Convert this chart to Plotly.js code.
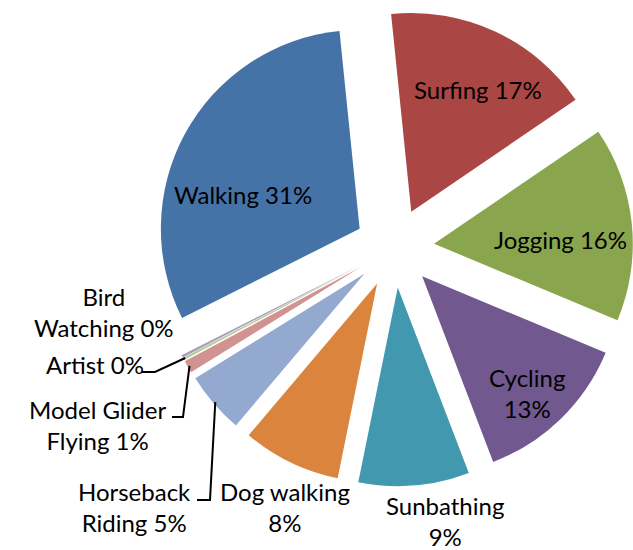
<!DOCTYPE html>
<html>
<head>
<meta charset="utf-8">
<script src="https://cdn.plot.ly/plotly-3.0.1.min.js"></script>
<style>html,body{margin:0;padding:0;background:#fff;overflow:hidden;}#chart{width:633px;height:550px;}</style>
</head>
<body>
<div id="chart"></div>
<script>
// Data (share of activities)
const activities = ["Walking", "Surfing", "Jogging", "Cycling", "Sunbathing", "Dog walking",
                    "Horseback Riding", "Model Glider Flying", "Artist", "Bird Watching"];
const shares = [30.8, 17.1, 15.8, 12.9, 9.0, 8.0, 5.0, 1.0, 0.2, 0.2];
// Label text as shown (line-broken)
const labelText = ["Walking", "Surfing", "Jogging", "Cycling<br>", "Sunbathing<br>", "Dog walking<br>",
                   "Horseback<br>Riding", "Model Glider<br>Flying", "Artist", "Bird<br>Watching"];
const sliceColors = ["#4572A7", "#AA4643", "#89A54E", "#71588F", "#4198AF", "#DB843D",
                     "#93A9CF", "#D19392", "#B9CD96", "#A99BBD"];

// ---- layout constants ----
const W = 633, H = 550;
const PULL = 0.2;
const ROT = 243.3;
const DOM = {x: [0.2464, 1], y: [0.109, 0.99]};
const FONT = {family: "Lato, 'Open Sans', sans-serif", size: 24, color: "#000"};
// label centres (px) and leader-line elbows (px), null = no leader
const labelPos = [
  {x: 243, y: 195, line: null},
  {x: 478, y: 90,  line: null},
  {x: 560, y: 240, line: null},
  {x: 527, y: 393, line: null},
  {x: 445, y: 521, line: null},
  {x: 285, y: 507, line: null},
  {x: 134, y: 507, line: [[197, 500], [210, 500]]},
  {x: 97,  y: 425, line: [[172, 417], [183, 417]]},
  {x: 95,  y: 364, line: [[142, 372], [155, 372]]},
  {x: 104, y: 312, line: null}
];

const total = shares.reduce((a, b) => a + b, 0);
const pctText = shares.map(v => Math.round(v / total * 100) + "%");
const fullText = labelText.map((t, i) => t + (t.endsWith("<br>") ? "" : " ") + pctText[i]);

// pie geometry (same as Plotly: r = min(w,h) / (2 + 2*pull))
const boxW = W * (DOM.x[1] - DOM.x[0]), boxH = H * (DOM.y[1] - DOM.y[0]);
const r = Math.min(boxW, boxH) / (2 + 2 * PULL);
const cx = W * (DOM.x[0] + DOM.x[1]) / 2;
const cy = H - H * (DOM.y[0] + DOM.y[1]) / 2;
function midAngle(i) {
  let before = 0;
  for (let k = 0; k < i; k++) before += shares[k];
  return (ROT + (before + shares[i] / 2) / total * 360) * Math.PI / 180;
}
function anchor(i) {
  const a = midAngle(i), d = r * (1 + PULL) - 2;
  return [cx + d * Math.sin(a), cy - d * Math.cos(a)];
}
const px = x => x / W, py = y => 1 - y / H;

const trace = {
  type: "pie",
  labels: activities,
  values: shares,
  sort: false,
  direction: "clockwise",
  rotation: ROT,
  pull: PULL,
  marker: {colors: sliceColors, line: {width: 0}},
  textinfo: "none",
  hoverinfo: "none",
  automargin: false,
  domain: DOM
};

const annotations = [], shapes = [];
labelPos.forEach((p, i) => {
  annotations.push({
    xref: "paper", yref: "paper", x: px(p.x), y: py(p.y),
    xanchor: "center", yanchor: "middle", align: "center",
    text: fullText[i], showarrow: false, font: FONT
  });
  if (p.line) {
    const pts = p.line.concat([anchor(i)]);
    const path = pts.map((q, j) => (j ? "L" : "M") + px(q[0]).toFixed(5) + "," + py(q[1]).toFixed(5)).join(" ");
    shapes.push({type: "path", xref: "paper", yref: "paper", path: path,
                 line: {color: "#000", width: 2}});
  }
});

Plotly.newPlot("chart", [trace], {
  width: W, height: H,
  margin: {l: 0, r: 0, t: 0, b: 0},
  showlegend: false,
  paper_bgcolor: "#fff",
  annotations: annotations,
  shapes: shapes
}, {displayModeBar: false, staticPlot: true});
</script>
</body>
</html>
